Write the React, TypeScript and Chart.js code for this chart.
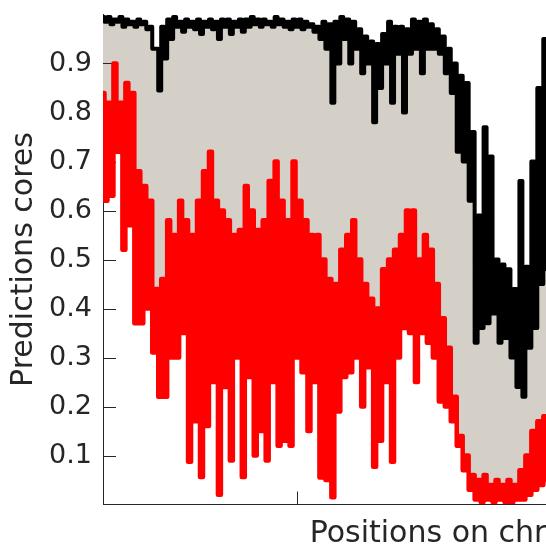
import React, { useEffect, useRef } from 'react';
import { Chart, registerables } from 'chart.js';

Chart.register(...registerables);

// Tick values
const yTickValues = [0.1, 0.2, 0.3, 0.4, 0.5, 0.6, 0.7, 0.8, 0.9];
const xTickValues = [65];
const xAxisMax = 267;

const yTitle = 'Predictions cores';
const xTitle = 'Positions on chromosome';

// Upper envelope (max prediction), alternating peak / dip samples
const maxScores = [
  0.995, 0.985, 0.995, 0.98, 0.99, 0.985, 0.995, 0.975, 0.99, 0.98,
  0.985, 0.975, 0.99, 0.98, 0.985, 0.97, 0.975, 0.93, 0.93, 0.845,
  0.975, 0.91, 0.99, 0.95, 0.995, 0.975, 0.985, 0.965, 0.99, 0.975,
  0.985, 0.97, 0.99, 0.96, 0.985, 0.975, 0.99, 0.97, 0.985, 0.95,
  0.99, 0.975, 0.99, 0.96, 0.985, 0.975, 0.99, 0.965, 0.99, 0.975,
  0.995, 0.98, 0.99, 0.975, 0.99, 0.98, 0.985, 0.975, 0.995, 0.98,
  0.99, 0.975, 0.985, 0.97, 0.99, 0.975, 0.99, 0.97, 0.985, 0.975,
  0.98, 0.965, 0.975, 0.95, 0.985, 0.93, 0.98, 0.82, 0.985, 0.90,
  0.995, 0.95, 0.99, 0.90, 0.985, 0.93, 0.97, 0.88, 0.955, 0.90,
  0.945, 0.78, 0.94, 0.85, 0.96, 0.90, 0.985, 0.82, 0.975, 0.92,
  0.975, 0.80, 0.97, 0.92, 0.99, 0.93, 0.985, 0.88, 0.99, 0.93,
  0.98, 0.93, 0.97, 0.92, 0.955, 0.88, 0.93, 0.84, 0.90, 0.72,
  0.875, 0.70, 0.86, 0.62, 0.76, 0.33, 0.59, 0.36, 0.77, 0.37,
  0.71, 0.39, 0.50, 0.33, 0.49, 0.34, 0.48, 0.30, 0.44, 0.24,
  0.66, 0.22, 0.485, 0.32, 0.70, 0.36, 0.85, 0.45, 0.95, 0.48,
  0.96, 0.50,
];

// Lower envelope (min prediction), alternating peak / dip samples
const minScores = [
  0.84, 0.62, 0.82, 0.63, 0.90, 0.72, 0.82, 0.52, 0.86, 0.57,
  0.84, 0.37, 0.68, 0.37, 0.65, 0.40, 0.62, 0.31, 0.44, 0.22,
  0.46, 0.22, 0.58, 0.30, 0.55, 0.30, 0.62, 0.35, 0.58, 0.087,
  0.55, 0.17, 0.62, 0.056, 0.68, 0.16, 0.72, 0.25, 0.62, 0.02,
  0.60, 0.24, 0.58, 0.09, 0.55, 0.30, 0.56, 0.056, 0.65, 0.26,
  0.60, 0.10, 0.56, 0.15, 0.58, 0.09, 0.66, 0.25, 0.70, 0.12,
  0.62, 0.13, 0.58, 0.12, 0.70, 0.30, 0.62, 0.27, 0.58, 0.15,
  0.55, 0.25, 0.55, 0.055, 0.50, 0.05, 0.46, 0.015, 0.45, 0.19,
  0.52, 0.26, 0.55, 0.27, 0.58, 0.30, 0.50, 0.20, 0.45, 0.28,
  0.42, 0.077, 0.40, 0.13, 0.48, 0.25, 0.50, 0.087, 0.52, 0.30,
  0.55, 0.36, 0.60, 0.35, 0.60, 0.25, 0.50, 0.35, 0.55, 0.33,
  0.52, 0.30, 0.45, 0.21, 0.38, 0.20, 0.32, 0.17, 0.22, 0.12,
  0.14, 0.07, 0.10, 0.03, 0.06, 0.01, 0.05, 0.005, 0.06, 0.01,
  0.04, 0.005, 0.05, 0.01, 0.04, 0.005, 0.05, 0.005, 0.04, 0.01,
  0.07, 0.01, 0.10, 0.02, 0.15, 0.03, 0.17, 0.04, 0.18, 0.05,
  0.20, 0.05,
];

// Sample positions along the chromosome (sample index)
const positions = maxScores.map((_, i) => i);

const AXIS_COLOR = '#262626';
const FONT = 'DejaVu Sans';

const inwardTicks = {
  id: 'inwardTicks',
  beforeDatasetsDraw(chart: any) {
    const { ctx, chartArea, scales } = chart;
    ctx.save();
    ctx.strokeStyle = AXIS_COLOR;
    ctx.lineWidth = 1;
    ctx.beginPath();
    const ys = scales.y;
    ys.ticks.forEach((t: any) => {
      const py = Math.round(ys.getPixelForValue(t.value)) + 0.5;
      ctx.moveTo(chartArea.left, py);
      ctx.lineTo(chartArea.left + 13, py);
    });
    const xs = scales.x;
    xs.ticks.forEach((t: any) => {
      const px = Math.round(xs.getPixelForValue(t.value)) + 0.5;
      ctx.moveTo(px, chartArea.bottom);
      ctx.lineTo(px, chartArea.bottom - 13);
    });
    ctx.stroke();
    ctx.restore();
  },
};

export default function App() {
  const ref = useRef<HTMLCanvasElement | null>(null);

  useEffect(() => {
    if (!ref.current) return;
    const chart = new Chart(ref.current, {
      type: 'line',
      data: {
        labels: positions,
        datasets: [
          {
            label: 'max',
            data: maxScores,
            borderColor: '#000000',
            borderWidth: 4,
            backgroundColor: 'rgb(212,208,200)',
            fill: 1,
            pointRadius: 0,
            stepped: 'middle',
            borderJoinStyle: 'round',
            borderCapStyle: 'round',
          },
          {
            label: 'min',
            data: minScores,
            borderColor: '#ff0000',
            borderWidth: 4.5,
            fill: false,
            pointRadius: 0,
            stepped: 'middle',
            borderJoinStyle: 'round',
            borderCapStyle: 'round',
          },
        ],
      },
      options: {
        responsive: false,
        animation: false,
        devicePixelRatio: 1,
        layout: { padding: { top: 14.5, right: 10, bottom: 0, left: 0 } },
        plugins: {
          legend: { display: false },
          tooltip: { enabled: false },
          filler: { drawTime: 'beforeDatasetsDraw' },
        },
        scales: {
          x: {
            type: 'linear',
            min: 0,
            max: xAxisMax,
            afterBuildTicks: (s: any) => {
              s.ticks = xTickValues.map((v) => ({ value: v }));
            },
            afterFit: (s: any) => {
              s.height = 44.5;
              s.paddingLeft = 0;
              s.paddingRight = 0;
            },
            ticks: { display: false },
            grid: { display: false, drawTicks: false },
            border: { display: true, color: AXIS_COLOR, width: 1 },
            title: {
              display: true,
              text: xTitle,
              color: AXIS_COLOR,
              font: { family: FONT, size: 30, lineHeight: 1 },
              padding: { top: 0, bottom: 0 },
            },
          },
          y: {
            type: 'linear',
            min: 0,
            max: 1,
            afterBuildTicks: (s: any) => {
              s.ticks = yTickValues.map((v) => ({ value: v }));
            },
            afterFit: (s: any) => {
              s.width = 103;
              s.paddingTop = 0;
              s.paddingBottom = 0;
            },
            ticks: {
              color: AXIS_COLOR,
              padding: 11,
              font: { family: FONT, size: 27, lineHeight: 1 },
              callback: (v: any) => Number(v).toFixed(1),
            },
            grid: { display: false, drawTicks: false },
            border: { display: true, color: AXIS_COLOR, width: 1 },
            title: {
              display: true,
              text: yTitle,
              color: AXIS_COLOR,
              font: { family: FONT, size: 30, lineHeight: 1 },
              padding: { top: 9, bottom: 0 },
            },
          },
        },
      },
      plugins: [inwardTicks],
    });
    return () => chart.destroy();
  }, []);

  return (
    <div
      style={{
        position: 'fixed',
        left: 0,
        top: 0,
        width: 546,
        height: 549,
        overflow: 'hidden',
        background: '#ffffff',
      }}
    >
      <canvas ref={ref} width={910} height={549} style={{ display: 'block', width: 910, height: 549 }} />
    </div>
  );
}
